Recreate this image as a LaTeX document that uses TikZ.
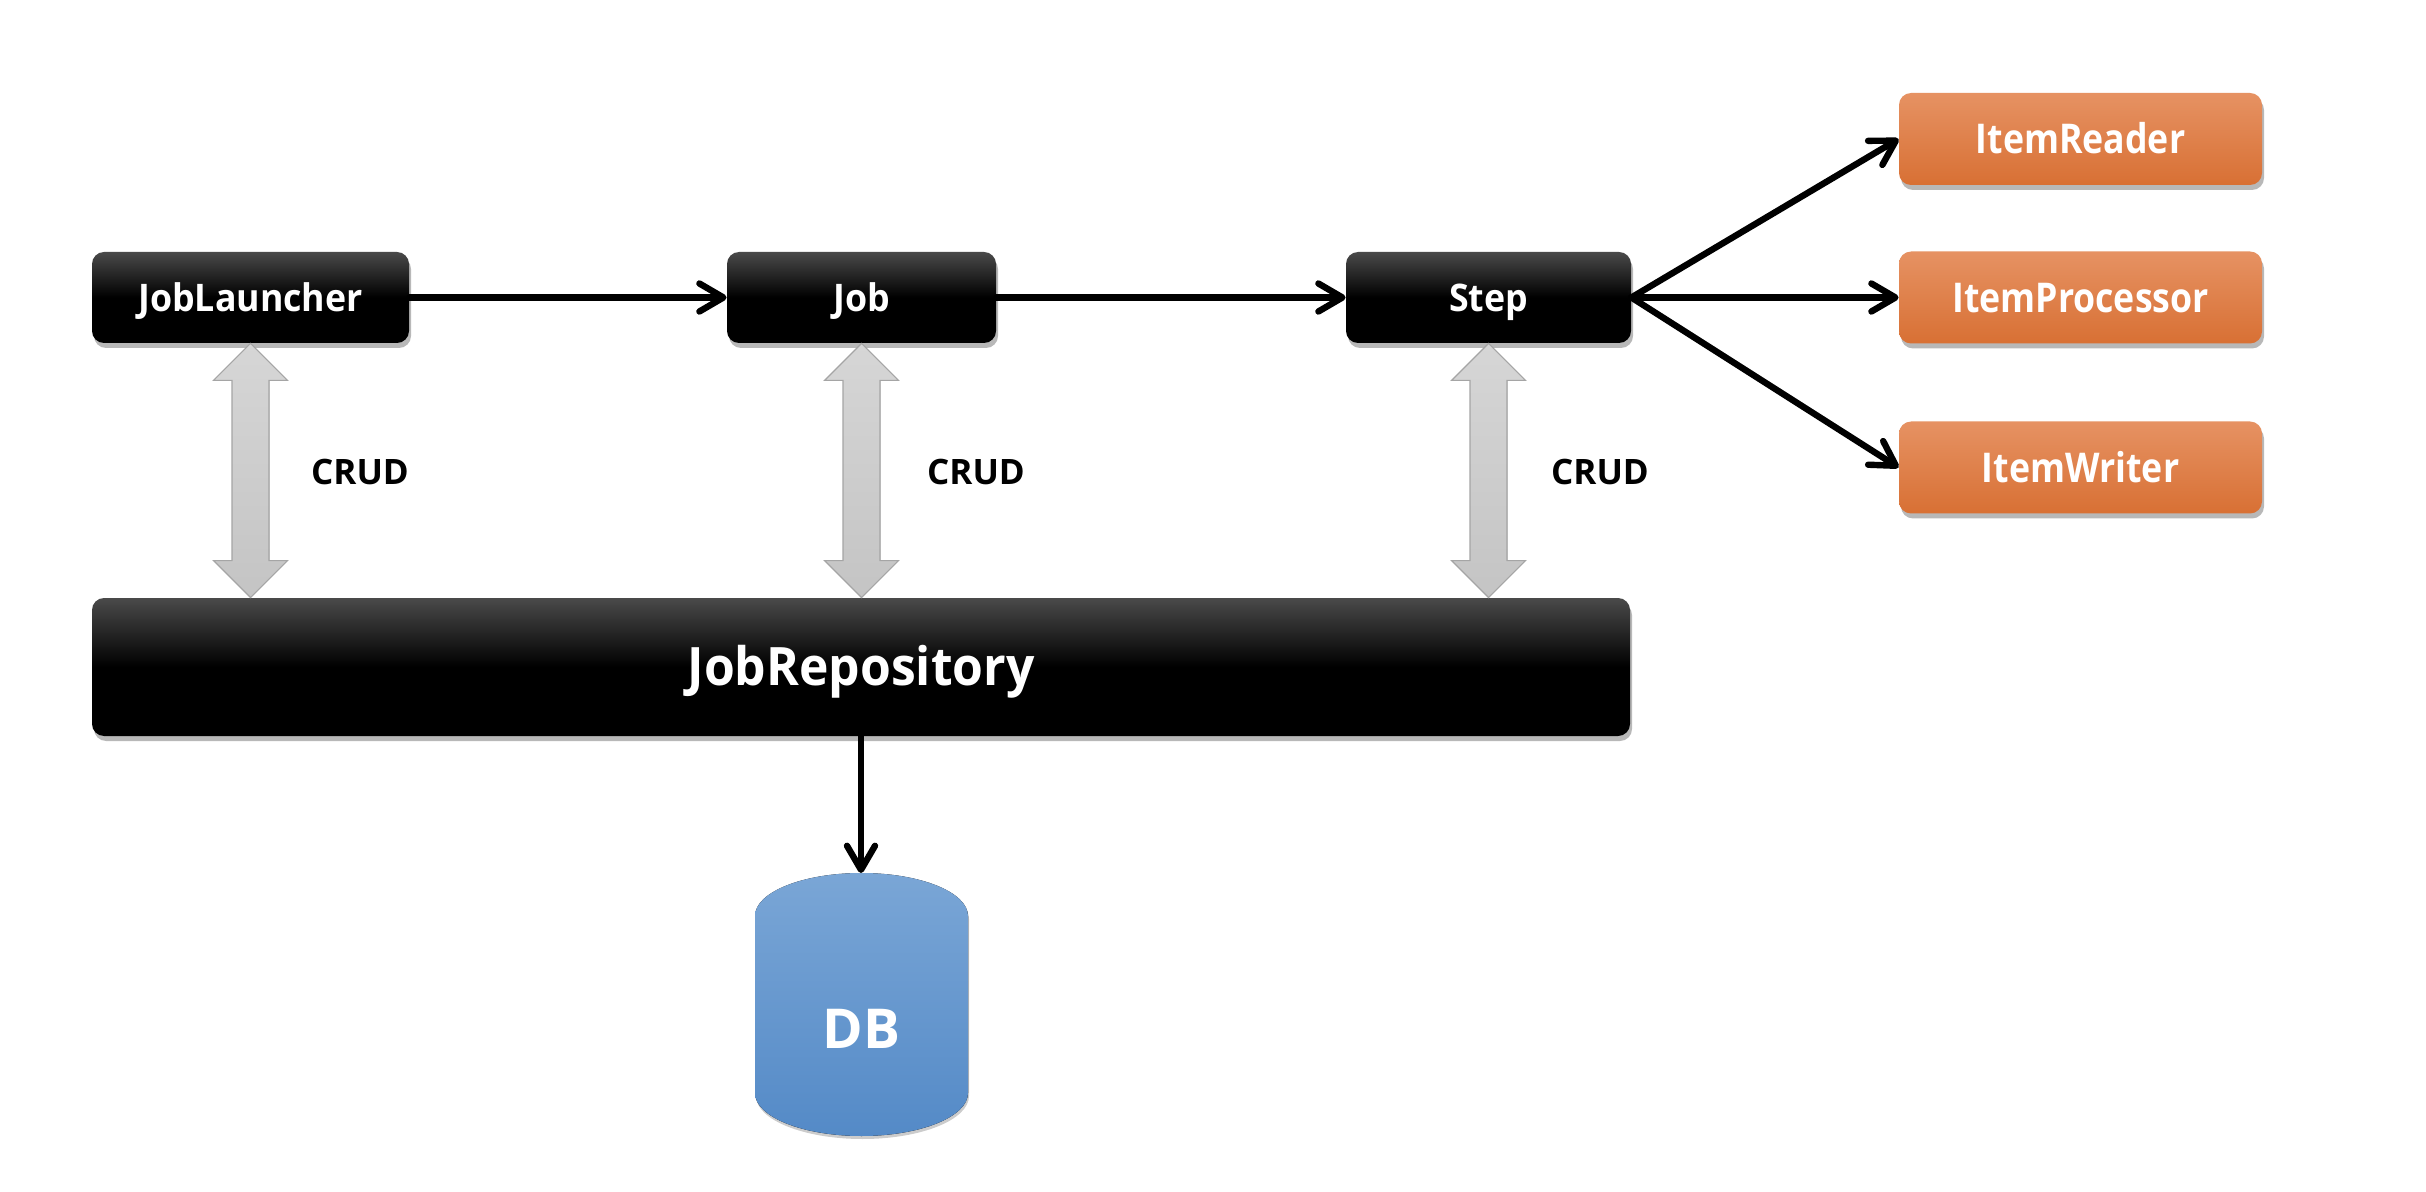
\documentclass[tikz,border=0pt]{standalone}
\usepackage{fontspec}
\setmainfont{Open Sans}
\newfontfamily\blkfont{Open Sans}[FakeStretch=0.94]
\newfontfamily\orfont{Open Sans}[FakeStretch=0.87]
\usetikzlibrary{arrows.meta,shadows,calc}
\definecolor{orTop}{RGB}{230,146,99}
\definecolor{orBot}{RGB}{216,112,52}
\definecolor{blTop}{RGB}{122,166,214}
\definecolor{blBot}{RGB}{84,138,199}
\definecolor{grTop}{RGB}{214,214,214}
\definecolor{grBot}{RGB}{196,196,196}
\definecolor{grEdge}{RGB}{165,165,165}
\definecolor{bkTop}{RGB}{74,74,74}
\newcommand\crudarrow[2]{%
  \filldraw[crudarr] let \p1=(#1.south), \p2=(#1.south |- #2.north) in
  (\x1,\y1) -- (\x1+18.5pt,\y1-18.5pt) -- (\x1+9.25pt,\y1-18.5pt) -- (\x1+9.25pt,\y2+18.5pt)
  -- (\x1+18.5pt,\y2+18.5pt) -- (\x1,\y2) -- (\x1-18.5pt,\y2+18.5pt) -- (\x1-9.25pt,\y2+18.5pt)
  -- (\x1-9.25pt,\y1-18.5pt) -- (\x1-18.5pt,\y1-18.5pt) -- cycle;}
\begin{document}
\begin{tikzpicture}[x=0.5pt,y=-0.5pt,
  boxshadow/.style={drop shadow={shadow xshift=1pt, shadow yshift=-2.5pt, opacity=0.28, fill=black}},
  darkbox/.style={rounded corners=6pt, minimum height=45.5pt, inner sep=0pt, text=white,
    font=\blkfont\fontsize{19}{22}\selectfont\bfseries, text height=13.6pt, text depth=0pt,
    top color=bkTop, bottom color=black, middle color=black, boxshadow},
  orbox/.style={rounded corners=6pt, minimum height=46pt, inner sep=0pt, text=white,
    font=\orfont\fontsize{20.5}{24}\selectfont\bfseries, text height=14.6pt, text depth=0pt,
    top color=orTop, bottom color=orBot, boxshadow},
  conn/.style={line width=3.2pt, line cap=round, -{Straight Barb[length=12pt, width=14pt, line cap=round, line join=round]}},
  crudarr/.style={draw=grEdge, line width=0.6pt, top color=grTop, bottom color=grBot},
  crudlbl/.style={font=\fontsize{17.5}{20}\selectfont\bfseries, text=black},
  dbshade/.style={top color=blTop, bottom color=blBot}
]
\useasboundingbox[fill=white] (0,0) rectangle (2426,1192);

\node[darkbox, minimum width=158.5pt] (jl) at (250.5,297.5) {JobLauncher};
\node[darkbox, minimum width=134.5pt] (job) at (861.5,297.5) {Job};
\node[darkbox, minimum width=142.5pt] (step) at (1488.5,297.5) {Step};
\node[orbox, minimum width=181.5pt] (reader) at (2080.5,139) {ItemReader};
\node[orbox, minimum width=181.5pt] (proc) at (2080.5,297.5) {ItemProcessor};
\node[orbox, minimum width=181.5pt] (writer) at (2080.5,467.5) {ItemWriter};
\node[darkbox, minimum width=769pt, minimum height=69pt,
  font=\blkfont\fontsize{26.5}{30}\selectfont\bfseries, text height=18.9pt] (repo) at (861,667) {JobRepository};

% DB cylinder
\fill[dbshade, drop shadow={shadow xshift=0.5pt, shadow yshift=-1.5pt, opacity=0.2, fill=black}]
  (755,916) arc[start angle=180,end angle=0,x radius=53.25pt,y radius=21.5pt]
  -- (968,1093) arc[start angle=0,end angle=-180,x radius=53.25pt,y radius=21.5pt] -- cycle;
\coordinate (dbtop) at (861,873);
\node[font=\fontsize{27.5}{30}\selectfont\bfseries, text=white] (db) at (861.5,1029) {DB};

% CRUD arrows
\crudarrow{jl}{repo}
\crudarrow{job}{repo}
\crudarrow{step}{repo}
\node[crudlbl] (c1) at (360,472) {CRUD};
\node[crudlbl] (c2) at (976,472) {CRUD};
\node[crudlbl] (c3) at (1600,472) {CRUD};

% connectors
\draw[conn] (jl.east) -- (job.west);
\draw[conn] (job.east) -- (step.west);
\draw[conn] (step.east) -- (reader.west);
\draw[conn] (step.east) -- (proc.west);
\draw[conn] (step.east) -- (writer.west);
\draw[conn] (repo.south) -- (dbtop);
\end{tikzpicture}
\end{document}
